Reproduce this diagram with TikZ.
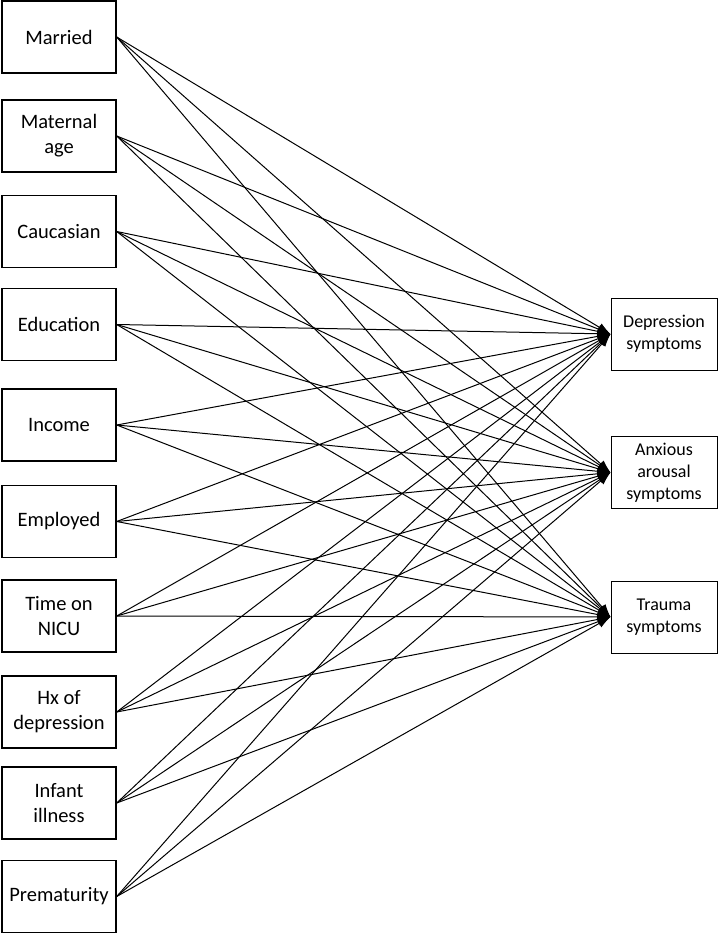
\documentclass[tikz,border=0pt]{standalone}
\usepackage{fontspec}
\setmainfont{Carlito}
\usepackage{tikz}
\usetikzlibrary{arrows.meta}

\tikzset{
    predictor/.style={draw, line width=1.4pt, minimum width=114pt, minimum height=72pt,
        align=center, font=\fontsize{20.5}{25}\selectfont, inner sep=0pt},
    outcome/.style={draw, line width=1pt, minimum width=106pt, minimum height=72pt,
        align=center, font=\fontsize{18}{22}\selectfont, inner sep=0pt},
    path/.style={line width=1pt, -{Latex[length=13pt, width=9pt]}}
}

\begin{document}
\begin{tikzpicture}[x=1pt, y=-1pt]
    \useasboundingbox (0, 0) rectangle (718, 934);

    \node [predictor] (married) at (59, 37) {Married};
    \node [predictor] (age) at (59, 136) {Maternal\\age};
    \node [predictor] (caucasian) at (59, 231.5) {Caucasian};
    \node [predictor] (education) at (59, 324.5) {Education};
    \node [predictor] (income) at (59, 425) {Income};
    \node [predictor] (employed) at (59, 521.5) {Employed};
    \node [predictor] (nicu) at (59, 616) {Time on\\NICU};
    \node [predictor] (hx) at (59, 712) {Hx of\\depression};
    \node [predictor] (illness) at (59, 803) {Infant\\illness};
    \node [predictor] (prem) at (59, 896.5) {Prematurity};

    \node [outcome] (depression) at (664, 334) {Depression\\symptoms};
    \node [outcome] (anxious) at (664, 472.5) {Anxious\\arousal\\symptoms};
    \node [outcome] (trauma) at (664, 617) {Trauma\\symptoms};

    % every predictor goes to every outcome
    \foreach \p in {married, age, caucasian, education, income, employed, nicu, hx, illness, prem}
        \foreach \o in {depression, anxious, trauma}
            \draw [path] (\p.east) -- (\o.west);

\end{tikzpicture}
\end{document}
